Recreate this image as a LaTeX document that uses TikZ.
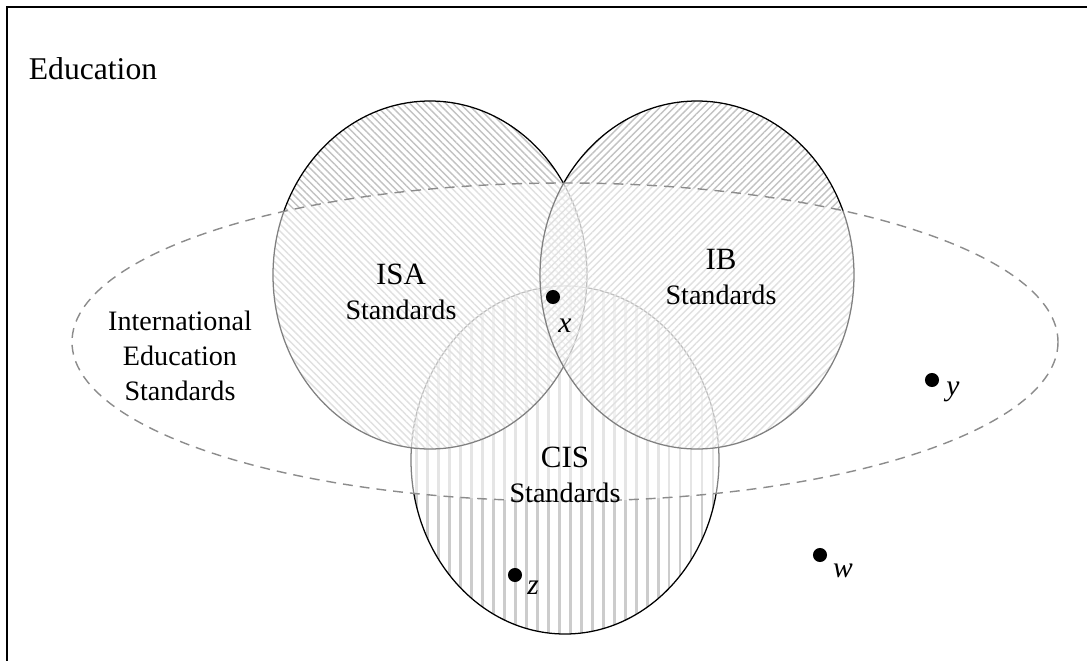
\documentclass[tikz,border=0pt]{standalone}
\usepackage{fontspec}
\setmainfont{Liberation Serif}
\usetikzlibrary{positioning, patterns.meta}
\tikzstyle{Dot} = [
    circle,
    fill = black,
    inner sep = 0pt,
    minimum size = 10pt
]
\tikzstyle{Veil} = [fill = white, fill opacity = 0.5]

\begin{document}
\begin{tikzpicture}[x=0.025cm, y=-0.025cm,
set/.style={
    draw = black,
    line width = 0.9pt
    },
txt/.style={
    align = center,
    font = \fontsize{20}{25}\selectfont
    },
letter/.style={
    font = \fontsize{21}{25}\selectfont\itshape
    }
]
\useasboundingbox (0,0) rectangle (1087,660);
\draw[line width=1.4pt] (7,720) |- (1140,7);

\node[font=\fontsize{22.5}{27}\selectfont] (edu) at (93,69) {Education};

% CIS
\path[pattern={Lines[angle=90, distance=7.8pt, line width=2pt]}, pattern color=black!20]
    (565,460) ellipse [x radius=154, y radius=174];
\draw[set] (565,460) ellipse [x radius=154, y radius=174];

% ISA
\path[Veil] (430,275) ellipse [x radius=157, y radius=174];
\path[pattern={Lines[angle=-45, distance=3.6pt, line width=1pt]}, pattern color=black!24]
    (430,275) ellipse [x radius=157, y radius=174];
\draw[set] (430,275) ellipse [x radius=157, y radius=174];

% IB
\path[Veil] (697,275) ellipse [x radius=157, y radius=174];
\path[pattern={Lines[angle=45, distance=3.6pt, line width=1pt]}, pattern color=black!24]
    (697,275) ellipse [x radius=157, y radius=174];
\draw[set] (697,275) ellipse [x radius=157, y radius=174];

% international
\path[Veil] (565,342) ellipse [x radius=493, y radius=159];
\draw[draw=black!45, line width=1pt, dash pattern=on 7pt off 5pt]
    (565,342) ellipse [x radius=493, y radius=159];

\node[txt] (ies) at (180,356) {International\\Education\\Standards};
\node[txt] (isa) at (401,292) {{\fontsize{22}{25}\selectfont ISA}\\Standards};
\node[txt] (ib) at (721,277) {{\fontsize{22}{25}\selectfont IB}\\Standards};
\node[txt] (cis) at (565,475) {{\fontsize{22}{25}\selectfont CIS}\\Standards};

\node[Dot] (x) at (553,297) {};
\node[Dot] (y) at (932,380) {};
\node[Dot] (w) at (820,555) {};
\node[Dot] (z) at (515,575) {};
\node[letter] (xl) at (565,326) {x};
\node[letter] (yl) at (953,392) {y};
\node[letter] (wl) at (843,571) {w};
\node[letter] (zl) at (533,588) {z};

\end{tikzpicture}
\end{document}
